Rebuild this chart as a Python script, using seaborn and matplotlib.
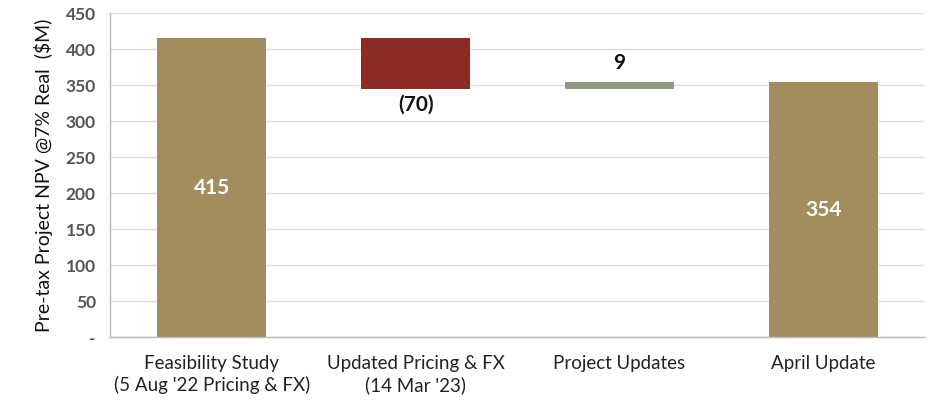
import matplotlib
matplotlib.use("Agg")
import matplotlib.pyplot as plt
import seaborn as sns
import pandas as pd
import numpy as np

categories = ["Feasibility Study\n(5 Aug '22 Pricing & FX)", "Updated Pricing & FX\n(14 Mar '23)",
              "Project Updates", "April Update"]
start_value = 415
changes = [-70, 9]
end_value = 354
value_labels = ["415", "(70)", "9", "354"]
y_ticks = [0, 50, 100, 150, 200, 250, 300, 350, 400, 450]
y_tick_labels = ["-", "50", "100", "150", "200", "250", "300", "350", "400", "450"]

GOLD = "#A38D5E"
RED = "#8B2B23"
GREEN = "#8A9B80"

# waterfall geometry from the data
levels = [start_value]
for c in changes:
    levels.append(levels[-1] + c)
bottoms = [0]
heights = [start_value]
for i, c in enumerate(changes):
    lo = min(levels[i], levels[i + 1])
    bottoms.append(lo)
    heights.append(abs(c))
bottoms.append(0)
heights.append(end_value)
colors = [GOLD] + [GREEN if c > 0 else RED for c in changes] + [GOLD]

df = pd.DataFrame({"cat": categories, "h": heights, "b": bottoms})

sns.set_theme(style="white")
plt.rcParams["font.family"] = ["Lato", "DejaVu Sans"]

fig = plt.figure(figsize=(9.3, 4.0), dpi=100)
ax = fig.add_axes([0.118, 0.1575, 0.877, 0.81])

sns.barplot(data=df, x="cat", y="h", color=GOLD, bottom=df["b"].values,
            width=0.535, ax=ax, saturation=1, linewidth=0, errorbar=None)
for patch, c in zip(ax.patches, colors):
    patch.set_facecolor(c)
    patch.set_edgecolor(c)

ax.set_ylim(0, 450)
ax.set_xlim(-0.5, 3.5)
ax.set_yticks(y_ticks)
ax.set_yticklabels(y_tick_labels)
ax.yaxis.grid(True, color="#DDDDDD", linewidth=1.0)
ax.set_axisbelow(True)
for s in ["top", "right"]:
    ax.spines[s].set_visible(False)
for s in ["left", "bottom"]:
    ax.spines[s].set_color("#BBBBBB")
    ax.spines[s].set_linewidth(1.0)

ax.tick_params(axis="y", labelsize=12.5, labelcolor="#555555", length=0, pad=10)
for t in ax.get_yticklabels():
    t.set_fontweight("bold")
ax.tick_params(axis="x", length=0, pad=13)
for t in ax.get_xticklabels():
    t.set_fontsize(13.5)
    t.set_color("#222222")
    t.set_linespacing(1.25)

ax.set_xlabel("")
ax.set_ylabel("Pre-tax Project NPV @7% Real  ($M)", fontsize=14, color="#111111", labelpad=9)

# labels
ax.text(0, heights[0] / 2, value_labels[0], ha="center", va="center", color="white",
        fontsize=15, fontweight="bold")
ax.text(1, bottoms[1] - 8, value_labels[1], ha="center", va="top", color="#111111",
        fontsize=15, fontweight="bold")
ax.text(2, bottoms[2] + heights[2] + 12, value_labels[2], ha="center", va="bottom", color="#111111",
        fontsize=15, fontweight="bold")
ax.text(3, heights[3] / 2, value_labels[3], ha="center", va="center", color="white",
        fontsize=15, fontweight="bold")

fig.savefig("out.png", dpi=100)
